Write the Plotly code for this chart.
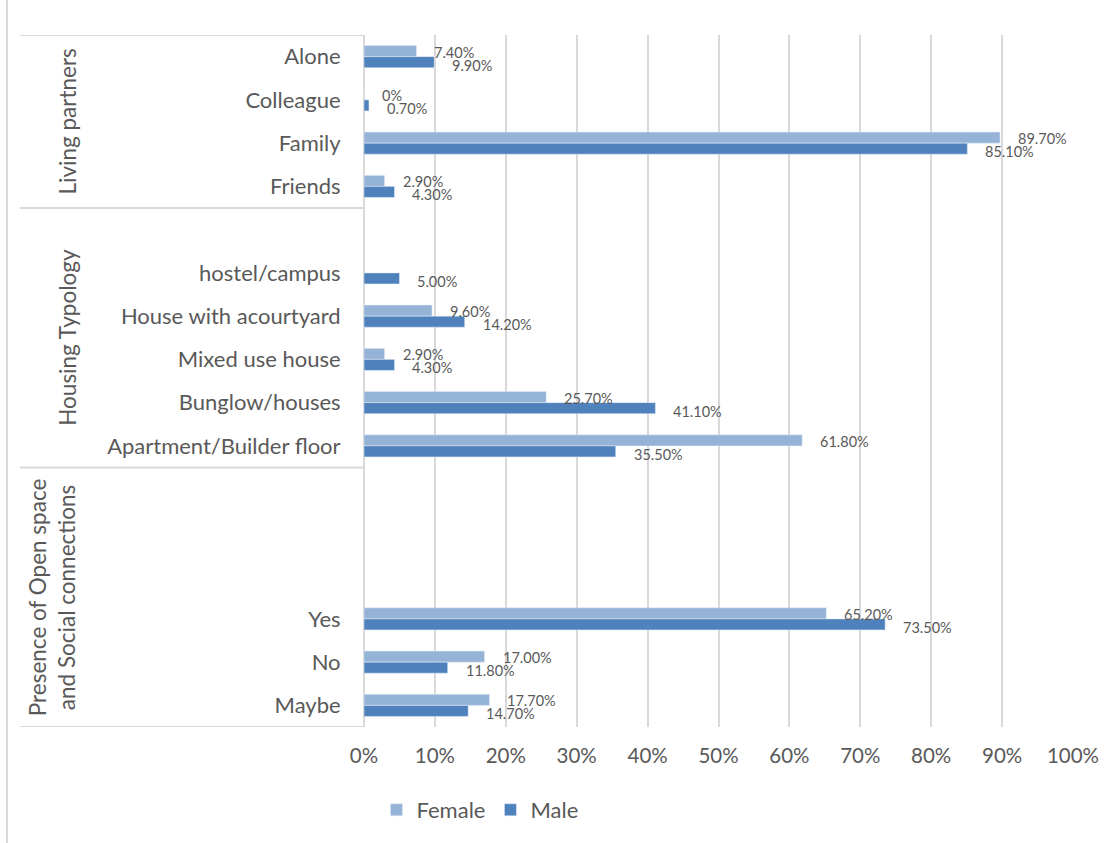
import plotly.graph_objects as go

# ---------------- data ----------------
categories = ["Alone", "Colleague", "Family", "Friends",
              " ", "hostel/campus", "House with acourtyard", "Mixed use house",
              "Bunglow/houses", "Apartment/Builder floor",
              "  ", "   ", "    ", "Yes", "No", "Maybe"]
female = [7.4, 0.0, 89.7, 2.9,
          None, None, 9.6, 2.9, 25.7, 61.8,
          None, None, None, 65.2, 17.0, 17.7]
male = [9.9, 0.7, 85.1, 4.3,
        None, 5.0, 14.2, 4.3, 41.1, 35.5,
        None, None, None, 73.5, 11.8, 14.7]
groups = [("Living partners", 0, 3),
          ("Housing Typology", 4, 9),
          ("Presence of Open space<br>and Social connections", 10, 15)]
x_ticks = list(range(0, 101, 10))

FEMALE_C = "#95B3D7"
MALE_C = "#4F81BD"
TXT = "#595959"
GRID = "#D9D9D9"
FONT = "Lato"

W, H = 1118, 843
ML, MR, MT, MB = 364, 45, 35, 116
PW = W - ML - MR
PH = H - MT - MB


def px2paperx(px):
    return (px - ML) / PW


def px2papery(py):
    return (H - MB - py) / PH


fig = go.Figure()
fig.add_trace(go.Bar(name="Female", y=categories, x=female, orientation="h",
                     marker=dict(color=FEMALE_C), hoverinfo="x+y"))
fig.add_trace(go.Bar(name="Male", y=categories, x=male, orientation="h",
                     marker=dict(color=MALE_C), hoverinfo="x+y"))

bargap = 0.49
half = (1 - bargap) / 4.0

annotations = []


def fmt(v):
    return "0%" if v == 0 else f"{v:.2f}%"


for series, off, ysh in ((female, -half, -1), (male, half, -3)):
    for i, v in enumerate(series):
        if v is None:
            continue
        annotations.append(dict(x=v, y=i + off, xref="x", yref="y",
                                text=fmt(v), showarrow=False, xanchor="left",
                                yanchor="middle", xshift=16, yshift=ysh,
                                font=dict(family=FONT, size=14.5, color=TXT)))

# group labels (rotated)
group_x = [67, 68, 52]
for (name, a, b), gx in zip(groups, group_x):
    annotations.append(dict(x=px2paperx(gx), y=(a + b) / 2.0, xref="paper",
                            yref="y", text=name, textangle=-90,
                            showarrow=False, xanchor="center",
                            yanchor="middle",
                            font=dict(family=FONT, size=22.5, color=TXT)))

shapes = []
# separators of the category table
for yb in (-0.5, 3.5, 9.5, 15.5):
    shapes.append(dict(type="line", xref="paper", yref="y",
                       x0=px2paperx(20), x1=0, y0=yb, y1=yb,
                       line=dict(color=GRID, width=2)))
# chart-area left border
shapes.append(dict(type="line", xref="paper", yref="paper",
                   x0=px2paperx(7), x1=px2paperx(7),
                   y0=px2papery(H), y1=px2papery(0),
                   line=dict(color=GRID, width=2)))

fig.update_layout(
    width=W, height=H,
    margin=dict(l=ML, r=MR, t=MT, b=MB, pad=0),
    barmode="group", bargap=bargap, bargroupgap=0,
    plot_bgcolor="white", paper_bgcolor="white",
    font=dict(family=FONT, color=TXT),
    xaxis=dict(range=[0, 100], tickvals=x_ticks,
               ticktext=[f"{t}%" for t in x_ticks],
               showgrid=True, gridcolor=GRID, gridwidth=2,
               zeroline=True, zerolinecolor=GRID, zerolinewidth=2,
               showline=False, ticks="outside", ticklen=10,
               tickcolor="rgba(0,0,0,0)",
               tickfont=dict(family=FONT, size=20.5, color=TXT)),
    yaxis=dict(type="category", categoryorder="array",
               categoryarray=categories, range=[15.5, -0.5],
               showgrid=False, zeroline=False, showline=False,
               ticks="outside", ticklen=18, tickcolor="rgba(0,0,0,0)",
               tickfont=dict(family=FONT, size=22, color=TXT)),
    legend=dict(orientation="h", x=px2paperx(480), xanchor="center",
                y=px2papery(810), yanchor="middle",
                font=dict(family=FONT, size=22, color=TXT),
                traceorder="normal", itemwidth=30),
    annotations=annotations, shapes=shapes,
    showlegend=True,
)

fig.write_html("out.html")
